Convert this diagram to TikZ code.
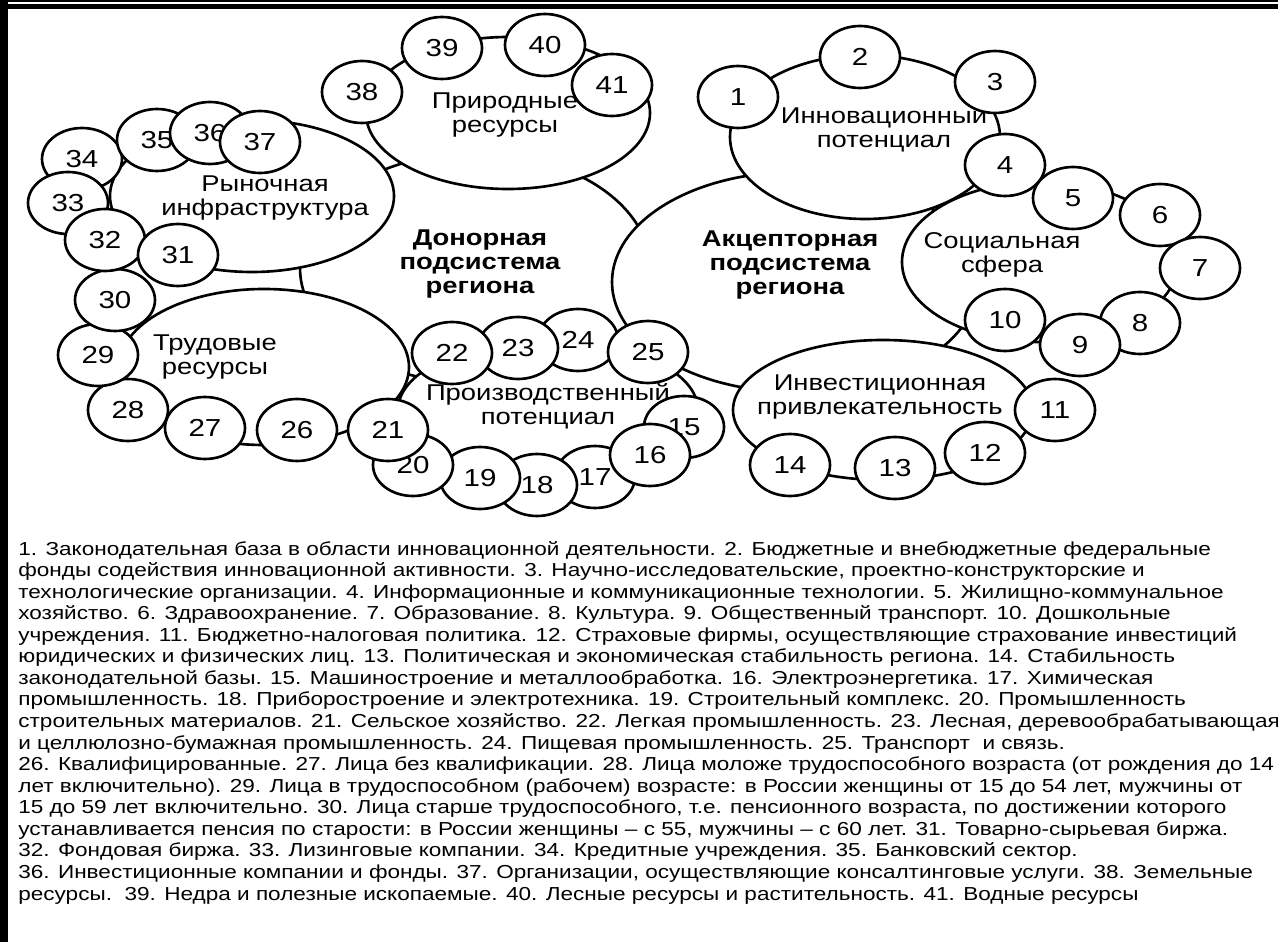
\documentclass[tikz,border=0pt]{standalone}
\usepackage{fontspec}
\setmainfont{Liberation Sans}[FakeStretch=1.2]
\usetikzlibrary{shapes.geometric}
\tikzset{
  part/.style={ellipse, draw, fill=white, line width=1.5pt, inner sep=0pt},
  num/.style={part, minimum width=1.6cm, minimum height=1.24cm, font=\fontsize{14}{14}\selectfont},
  lbl/.style={align=center, inner sep=0pt, font=\fontsize{13}{13.6}\selectfont},
  note/.style={anchor=base west, inner sep=0pt, font=\fontsize{10.7}{12}\selectfont}
}
\begin{document}
\begin{tikzpicture}[x=0.02cm,y=-0.02cm]
  \useasboundingbox (0,0) rectangle (1278,942);
  \fill (0,0) rectangle (1278,2);
  \fill (0,4) rectangle (1278,9);
  \fill (0,0) rectangle (8,942);
  \foreach \nm/\px/\py/\w/\h in {donor/475/268/350/230, akc/795/282/366/220,
      prir/508/113/284/152, rynok/252/196/284/152, trud/264/367/290/156,
      proizv/548/410/300/140, invest/883/410/300/140, soc/1040/262/276/160,
      innov/865/137/270/164}
    \node[part, minimum width=\w*0.02cm, minimum height=\h*0.02cm] (\nm) at (\px,\py) {};
  \node[lbl, font=\fontsize{13}{13.6}\selectfont\bfseries] (donor-t) at (480,264) {Донорная\\подсистема\\региона};
  \node[lbl, font=\fontsize{13}{13.6}\selectfont\bfseries] (akc-t) at (790,265) {Акцепторная\\подсистема\\региона};
  \node[lbl] (prir-t) at (505,115) {Природные\\ресурсы};
  \node[lbl] (rynok-t) at (265,198) {Рыночная\\инфраструктура};
  \node[lbl] (trud-t) at (215,357) {Трудовые\\ресурсы};
  \node[lbl] (proizv-t) at (548,406) {Производственный\\потенциал};
  \node[lbl] (invest-t) at (880,397) {Инвестиционная\\привлекательность};
  \node[lbl] (soc-t) at (1002,255) {Социальная\\сфера};
  \node[lbl] (innov-t) at (884,129) {Инновационный\\потенциал};
  \foreach \n/\px/\py in {1/738/97, 2/860/57, 3/995/82, 4/1005/165, 5/1073/198,
      6/1160/215, 7/1200/268, 8/1140/323, 9/1080/345, 10/1005/320,
      11/1055/410, 12/985/453, 13/895/468, 14/790/465,
      17/595/477, 18/537/485, 19/480/478, 20/413/465, 21/388/430,
      15/684/427, 16/650/455, 24/578/340, 23/518/348, 22/452/353, 25/648/352,
      26/297/430, 27/205/428, 28/128/410, 29/98/355, 30/115/300,
      34/82/159, 33/68/203, 32/105/240, 31/178/255, 35/157/140,
      36/210/133, 37/260/142, 38/362/92, 39/442/48, 40/545/45, 41/612/85}
    \node[num] (c\n) at (\px,\py) {\n};
  \foreach \t [count=\i] in {
      {1. Законодательная база в области инновационной деятельности. 2. Бюджетные и внебюджетные федеральные},
      {фонды содействия инновационной активности. 3. Научно-исследовательские, проектно-конструкторские и},
      {технологические организации. 4. Информационные и коммуникационные технологии. 5. Жилищно-коммунальное},
      {хозяйство. 6. Здравоохранение. 7. Образование. 8. Культура. 9. Общественный транспорт. 10. Дошкольные},
      {учреждения. 11. Бюджетно-налоговая политика. 12. Страховые фирмы, осуществляющие страхование инвестиций},
      {юридических и физических лиц. 13. Политическая и экономическая стабильность региона. 14. Стабильность},
      {законодательной базы. 15. Машиностроение и металлообработка. 16. Электроэнергетика. 17. Химическая},
      {промышленность. 18. Приборостроение и электротехника. 19. Строительный комплекс. 20. Промышленность},
      {строительных материалов. 21. Сельское хозяйство. 22. Легкая промышленность. 23. Лесная, деревообрабатывающая},
      {и целлюлозно-бумажная промышленность. 24. Пищевая промышленность. 25. Транспорт\ \ и связь.},
      {26. Квалифицированные. 27. Лица без квалификации. 28. Лица моложе трудоспособного возраста (от рождения до 14},
      {лет включительно). 29. Лица в трудоспособном (рабочем) возрасте: в России женщины от 15 до 54 лет, мужчины от},
      {15 до 59 лет включительно. 30. Лица старше трудоспособного, т.е. пенсионного возраста, по достижении которого},
      {устанавливается пенсия по старости: в России женщины – с 55, мужчины – с 60 лет. 31. Товарно-сырьевая биржа.},
      {32. Фондовая биржа. 33. Лизинговые компании. 34. Кредитные учреждения. 35. Банковский сектор.},
      {36. Инвестиционные компании и фонды. 37. Организации, осуществляющие консалтинговые услуги. 38. Земельные},
      {ресурсы.\ \ 39. Недра и полезные ископаемые. 40. Лесные ресурсы и растительность. 41. Водные ресурсы}}
    \node[note] (l\i) at (18,533.5+21.56*\i) {\t};
\end{tikzpicture}
\end{document}
